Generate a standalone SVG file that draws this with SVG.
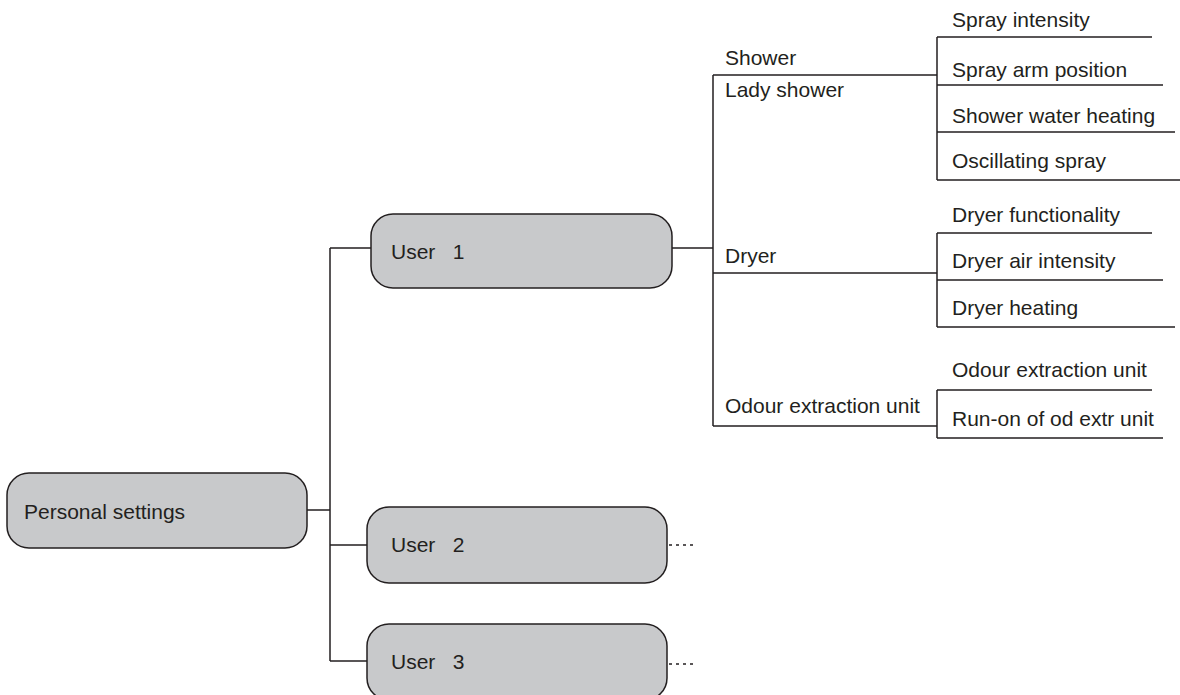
<svg xmlns="http://www.w3.org/2000/svg" width="1180" height="695" viewBox="0 0 1180 695">
<style>
.box{fill:#c8c9cb;stroke:#231f20;stroke-width:1.5}
.ln{fill:none;stroke:#231f20;stroke-width:1.5}
.dash{fill:none;stroke:#231f20;stroke-width:1.5;stroke-dasharray:3 4}
text{font-family:"Liberation Sans",Arial,sans-serif;font-size:21px;fill:#231f20}
</style>
<rect width="1180" height="695" fill="#fff"/>
<g id="connectors">
<path class="ln" d="M307 510H330M330 248V661M330 248H371M330 545H367M330 661H367"/>
<path class="ln" d="M672 248H713M713 75V426M713 75H937M713 273H937M713 426H937"/>
<path class="ln" d="M937 37V180M937 37H1152M937 85H1163M937 132H1175M937 180H1180"/>
<path class="ln" d="M937 233V327M937 233H1152M937 280H1163M937 327H1175"/>
<path class="ln" d="M937 390V438M937 390H1152M937 438H1163"/>
<path class="dash" d="M669 545H697M669 664H697"/>
</g>
<g id="personal"><rect class="box" x="7" y="473" width="300" height="75" rx="22"/><text x="24" y="519">Personal settings</text></g>
<g id="user1"><rect class="box" x="371" y="214" width="301" height="74" rx="22"/><text x="391" y="259" xml:space="preserve">User   1</text></g>
<g id="user2"><rect class="box" x="367" y="507" width="300" height="76" rx="22"/><text x="391" y="552" xml:space="preserve">User   2</text></g>
<g id="user3"><rect class="box" x="367" y="624" width="300" height="76" rx="22"/><text x="391" y="669" xml:space="preserve">User   3</text></g>
<g id="shower"><text x="725" y="65">Shower</text><text x="725" y="97">Lady shower</text></g>
<g id="dryer"><text x="725" y="263">Dryer</text></g>
<g id="odour"><text x="725" y="413">Odour extraction unit</text></g>
<g id="shower-items">
<text x="952" y="27">Spray intensity</text>
<text x="952" y="77">Spray arm position</text>
<text x="952" y="123">Shower water heating</text>
<text x="952" y="168">Oscillating spray</text>
</g>
<g id="dryer-items">
<text x="952" y="222">Dryer functionality</text>
<text x="952" y="268">Dryer air intensity</text>
<text x="952" y="315">Dryer heating</text>
</g>
<g id="odour-items">
<text x="952" y="377">Odour extraction unit</text>
<text x="952" y="426">Run-on of od extr unit</text>
</g>
</svg>
